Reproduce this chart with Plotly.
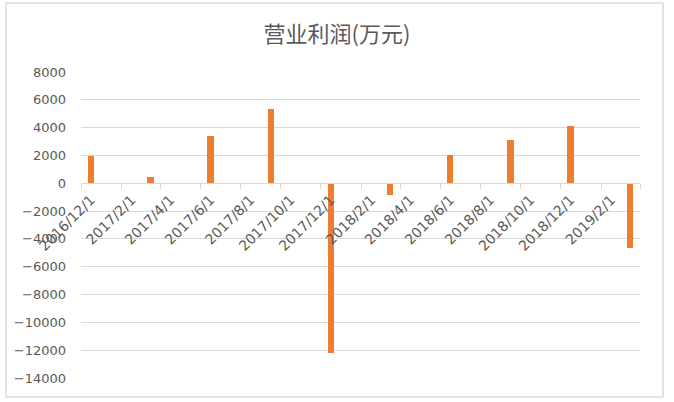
import pandas as pd
import plotly.graph_objs as go

# quarterly operating profit, 万元
report_dates = ['2016-12-01', '2017-03-01', '2017-06-01', '2017-09-01', '2017-12-01',
                '2018-03-01', '2018-06-01', '2018-09-01', '2018-12-01', '2019-03-01']
profit = [1990, 460, 3380, 5360, -12190, -840, 2050, 3140, 4100, -4640]

tick_dates = ['2016-12-01', '2017-02-01', '2017-04-01', '2017-06-01', '2017-08-01',
              '2017-10-01', '2017-12-01', '2018-02-01', '2018-04-01', '2018-06-01',
              '2018-08-01', '2018-10-01', '2018-12-01', '2019-02-01']
tick_text = ['2016/12/1', '2017/2/1', '2017/4/1', '2017/6/1', '2017/8/1',
             '2017/10/1', '2017/12/1', '2018/2/1', '2018/4/1', '2018/6/1',
             '2018/8/1', '2018/10/1', '2018/12/1', '2019/2/1']

y_min, y_max = -14000, 8000

grey_text = '#595959'
grid_grey = '#d9d9d9'

# labels sit in the middle of their month slot, like excel's date axis
label_pos = pd.to_datetime(tick_dates) + pd.Timedelta(days=15)

fig = go.Figure(data=go.Bar(name='营业利润', x=report_dates, y=profit,
                            xperiod='M1', xperiodalignment='middle',
                            width=10 * 86400000,
                            marker=dict(color='#ED7D31', line=dict(width=0))))

fig.update_layout(width=674, height=402,
                  margin=dict(l=81, r=34, t=72, b=24),
                  paper_bgcolor='white',
                  plot_bgcolor='white',
                  showlegend=False,
                  bargap=0,
                  title=dict(text='营业利润(万元)', x=0.5, xref='container',
                             y=1 - 34 / 402, yref='container', yanchor='middle',
                             font=dict(family='Noto Sans CJK SC', size=22, color=grey_text)),
                  font=dict(family='DejaVu Sans', size=13, color=grey_text))

fig.update_xaxes(type='date',
                 range=['2016-12-01', '2019-04-01'],
                 anchor='free', position=(0 - y_min) / (y_max - y_min),
                 showgrid=False, zeroline=False,
                 showline=True, linecolor=grid_grey, linewidth=1,
                 tickmode='array', tickvals=label_pos, ticktext=tick_text,
                 ticks='', tickangle=-45, ticklabelstandoff=2,
                 tickfont=dict(family='DejaVu Sans', size=14, color=grey_text),
                 minor=dict(ticks='outside', ticklen=5, tickcolor=grid_grey,
                            tick0='2016-12-01', dtick='M2', showgrid=False))

fig.update_yaxes(range=[y_min, y_max], dtick=2000, tickformat='d',
                 showgrid=True, gridcolor=grid_grey, gridwidth=1,
                 zeroline=False, showline=False,
                 ticks='', ticklabelstandoff=14,
                 tickfont=dict(family='DejaVu Sans', size=13, color=grey_text))

# light grey frame around the whole chart
fig.add_shape(type='rect', xref='paper', yref='paper',
              x0=(6 - 81) / 559, x1=(663 - 81) / 559,
              y0=(378 - 397) / 306, y1=(378 - 3) / 306,
              line=dict(color=grid_grey, width=1.5), layer='below')

# drop the browser's default 8px body margin so the chart sits at the window corner
fig.write_html('out.html', config={'displayModeBar': False},
               post_script="document.body.style.margin='0';")
